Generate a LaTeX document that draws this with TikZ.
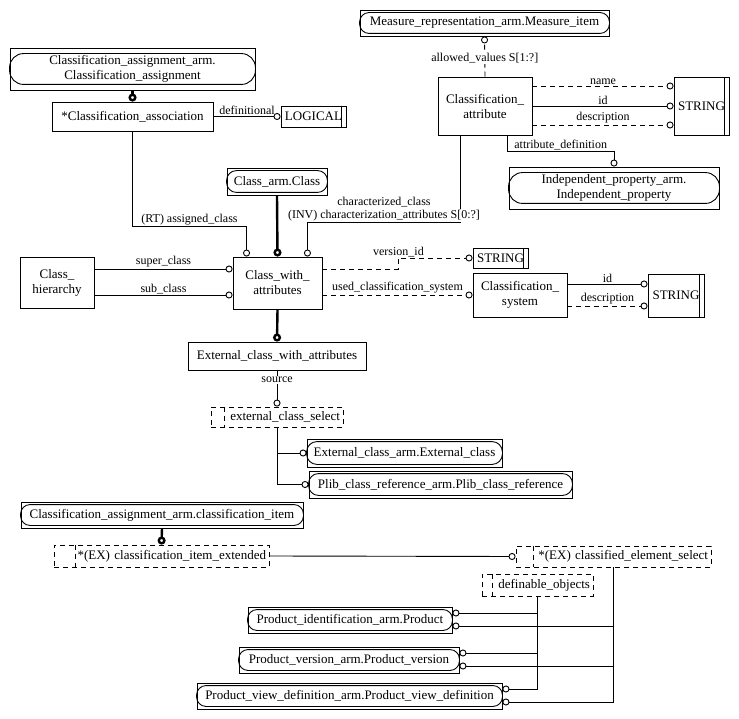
\documentclass[tikz,border=0pt]{standalone}
\usepackage{fontspec}
\setmainfont{Liberation Serif}
\usetikzlibrary{arrows.meta}

\begin{document}
\begin{tikzpicture}[x=1pt,y=-1pt,
    every node/.style={font=\fontsize{13}{15}\selectfont},
    ent/.style={draw,line width=0.9pt,inner sep=0pt,align=center},
    sel/.style={draw,line width=0.9pt,dash pattern=on 5pt off 4pt,inner xsep=3pt,inner ysep=0pt,align=right},
    lbl/.style={font=\fontsize{12}{14}\selectfont,inner sep=1pt},
    attr/.style={line width=0.9pt,-{Circle[open,length=7pt,width=7pt]}},
    optattr/.style={attr,dash pattern=on 5pt off 4pt},
    supert/.style={line width=2.4pt,-{Circle[open,length=8pt,width=8pt]}}]
    \useasboundingbox (0,0) rectangle (739,719);

    % top left
    \node[ent,minimum width=245pt,minimum height=42pt] (casn) at (132.5,69) {Classification\_assignment\_arm.\\Classification\_assignment};
    \node[ent,minimum width=161pt,minimum height=29pt] (cass) at (132.5,116.5) {*Classification\_association};
    \node[ent,minimum width=65pt,minimum height=21pt] (logical) at (313.5,116.5) {LOGICAL};
    \node[ent,minimum width=100pt,minimum height=27pt] (car) at (277,181.5) {Class\_arm.Class};
    \node[ent,minimum width=89pt,minimum height=52pt] (cwa) at (277.5,283) {Class\_with\_\\attributes};
    \node[ent,minimum width=74pt,minimum height=51pt] (chier) at (57,282.5) {Class\_\\hierarchy};
    % top right
    \node[ent,minimum width=249pt,minimum height=26pt] (mri) at (484.5,23) {Measure\_representation\_arm.Measure\_item};
    \node[ent,minimum width=94pt,minimum height=58pt] (cattr) at (485,106) {Classification\_\\attribute};
    \node[ent,minimum width=55pt,minimum height=58pt] (str1) at (701.5,106) {STRING};
    \node[ent,minimum width=210pt,minimum height=42pt] (indp) at (614,188) {Independent\_property\_arm.\\Independent\_property};
    \node[ent,minimum width=55pt,minimum height=20pt] (str2) at (500.5,258) {STRING};
    \node[ent,minimum width=94pt,minimum height=44pt] (csys) at (520,295) {Classification\_\\system};
    \node[ent,minimum width=56pt,minimum height=43pt] (str3) at (676,295.5) {STRING};
    % middle
    \node[ent,minimum width=178pt,minimum height=28pt] (ecwa) at (277,356) {External\_class\_with\_attributes};
    \node[sel,text width=126pt,minimum height=20pt] (ecs) at (277,417) {external\_class\_select};
    \node[ent,minimum width=195pt,minimum height=28pt] (eca) at (404.5,453) {External\_class\_arm.External\_class};
    \node[ent,minimum width=263pt,minimum height=27pt] (plib) at (440.5,484.5) {Plib\_class\_reference\_arm.Plib\_class\_reference};
    % bottom
    \node[ent,minimum width=282pt,minimum height=26pt] (cai) at (162,515) {Classification\_assignment\_arm.classification\_item};
    \node[sel,text width=209pt,minimum height=22pt] (cie) at (161.5,556) {*(EX) classification\_item\_extended};
    \node[sel,text width=189pt,minimum height=21pt] (ces) at (613.5,556.5) {*(EX) classified\_element\_select};
    \node[sel,text width=105pt,minimum height=22pt] (dobj) at (537.5,585) {definable\_objects};
    \node[ent,minimum width=204pt,minimum height=26pt] (pid) at (350,620) {Product\_identification\_arm.Product};
    \node[ent,minimum width=220pt,minimum height=26pt] (pver) at (349,660) {Product\_version\_arm.Product\_version};
    \node[ent,minimum width=305pt,minimum height=26pt] (pvd) at (349.5,696) {Product\_view\_definition\_arm.Product\_view\_definition};

    % inner marks of the boxes
    \foreach \n/\d/\r in {casn/6/14,mri/3/9.5,car/3/10,indp/6/14,eca/3/10.5,plib/3/10,cai/3/9.5,pid/3/9.5,pver/3/9.5,pvd/3/9.5}
        \draw[line width=0.9pt,rounded corners=\r pt] ([yshift=-\d pt]\n.north west) rectangle ([yshift=\d pt]\n.south east);
    \foreach \n in {logical,str1,str2,str3}
        \draw[line width=0.9pt] ([xshift=-5pt]\n.north east) -- ([xshift=-5pt]\n.south east);
    \foreach \n/\d in {ecs/14,cie/22,ces/18,dobj/11}
        \draw[line width=0.9pt,dash pattern=on 5pt off 4pt] ([xshift=\d pt]\n.north west) -- ([xshift=\d pt]\n.south west);

    % subtypes
    \draw[supert] (casn.south) -- (cass.north);
    \draw[supert] (car.south) -- (cwa.north);
    \draw[supert] (cwa.south) -- (ecwa.north);
    \draw[supert] (cai.south) -- (cie.north);

    % attributes
    \draw[attr] (cass.east) -- node[lbl,above]{definitional} (logical.west);
    \coordinate (rtbend) at ([xshift=14pt,yshift=30pt]cwa.north west);
    \draw[attr] (cass.south) |- node[lbl,above,pos=0.75]{(RT) assigned\_class} (rtbend) -- (rtbend |- cwa.north);
    \coordinate (ccbend) at ([xshift=-15pt,yshift=34pt]cwa.north east);
    \draw[attr] ([xshift=23pt]cattr.south west) |- node[lbl,above,pos=0.75,fill=white]{(INV) characterization\_attributes S[0:?]}
        node[lbl,above,pos=0.75,yshift=14pt]{characterized\_class} (ccbend) -- (ccbend |- cwa.north);
    \coordinate (sup) at ([yshift=13.5pt]chier.east);
    \coordinate (sub) at ([yshift=-12.5pt]chier.east);
    \draw[attr] (sup) -- node[lbl,above]{super\_class} (sup -| cwa.west);
    \draw[attr] (sub) -- node[lbl,above]{sub\_class} (sub -| cwa.west);
    \draw[optattr] (cattr.north) -- node[lbl,fill=white,pos=0.46]{allowed\_values S[1:?]} (mri.south);
    \foreach \dy/\sty/\lab in {20/optattr/name,0/attr/id,-19/optattr/description} {
        \coordinate (a) at ([yshift=\dy pt]cattr.east);
        \draw[\sty] (a) -- node[lbl,above]{\lab} (a -| str1.west);
    }
    \coordinate (adbend) at ([yshift=15pt]indp.north);
    \draw[attr] ([xshift=-25pt]cattr.south east) |- node[lbl,above,pos=0.75]{attribute\_definition} (adbend) -- (indp.north);
    \coordinate (vid) at ([yshift=14pt]cwa.east);
    \draw[optattr] (vid) -- ++(76,0) |- node[lbl,above]{version\_id} (str2.west);
    \draw[optattr] (csys.west -| cwa.east) -- node[lbl,above]{used\_classification\_system} (csys.west);
    \foreach \dy/\sty/\lab in {11/attr/id,-11/optattr/description} {
        \coordinate (a) at ([yshift=\dy pt]csys.east);
        \draw[\sty] (a) -- node[lbl,above]{\lab} (a -| str3.west);
    }
    \draw[attr] (ecwa.south) -- node[lbl,fill=white,pos=0.27]{source} (ecs.north);

    % select items
    \draw[attr] (ecs.south) |- (eca.west);
    \draw[attr] (ecs.south) |- (plib.west);
    \draw[attr] (cie.east) -- (ces.west);
    \foreach \p in {pid,pver,pvd} {
        \draw[attr] (dobj.south) |- ([yshift=7pt]\p.east);
        \draw[attr] (ces.south) |- ([yshift=-6pt]\p.east);
    }
\end{tikzpicture}
\end{document}
